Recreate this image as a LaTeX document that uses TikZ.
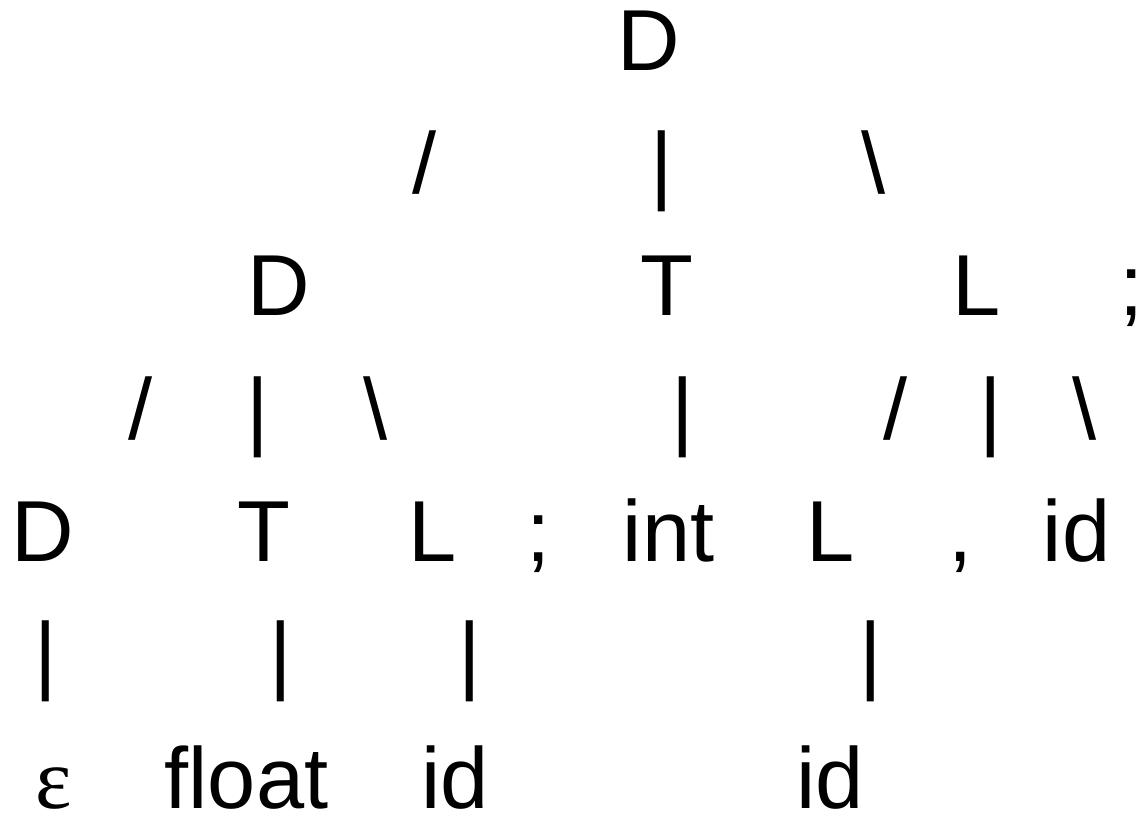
\documentclass[tikz,border=0pt]{standalone}
\usepackage{fontspec}
\setmainfont{Liberation Sans}
\newfontfamily\greekserif{Liberation Serif}
\begin{document}
\begin{tikzpicture}[x=1pt,y=-1pt,
  sym/.style={font=\fontsize{86.6pt}{90pt}\selectfont, inner sep=0pt, outer sep=0pt, anchor=base},
  eps/.style={font=\fontsize{86.6pt}{90pt}\selectfont\greekserif, inner sep=0pt, outer sep=0pt, anchor=base}]
\useasboundingbox[fill=white] (0,0) rectangle (1141,815);
% row 1
\node[sym] (r1D) at (649,70) {D};
% row 2
\node[sym] (r2a) at (424.5,193) {/};
\node[sym] (r2b) at (662,193) {|};
\node[sym] (r2c) at (874,193) {\textbackslash};
% row 3
\node[sym] (r3D) at (279,315) {D};
\node[sym] (r3T) at (667,315) {T};
\node[sym] (r3L) at (977,315) {L};
\node[sym] (r3s) at (1132,315) {;};
% row 4
\node[sym] (r4a) at (140.5,439) {/};
\node[sym] (r4b) at (258,439) {|};
\node[sym] (r4c) at (375.5,439) {\textbackslash};
\node[sym] (r4d) at (683,439) {|};
\node[sym] (r4e) at (895.5,439) {/};
\node[sym] (r4f) at (990.5,439) {|};
\node[sym] (r4g) at (1084.5,439) {\textbackslash};
% row 5
\node[sym] (r5D) at (42.5,561) {D};
\node[sym] (r5T) at (264,561) {T};
\node[sym] (r5L) at (433,561) {L};
\node[sym] (r5s) at (539,561) {;};
\node[sym] (r5int) at (668.5,561) {int};
\node[sym] (r5L2) at (831,561) {L};
\node[sym] (r5c) at (961,561) {,};
\node[sym] (r5id) at (1076.5,561) {id};
% row 6
\node[sym] (r6a) at (45.5,683) {|};
\node[sym] (r6b) at (280.5,683) {|};
\node[sym] (r6c) at (469.5,683) {|};
\node[sym] (r6d) at (870.5,683) {|};
% row 7
\node[eps] (r7e) at (53.5,808) {ε};
\node[sym] (r7f) at (246.5,808) {float};
\node[sym] (r7i) at (455,808) {id};
\node[sym] (r7j) at (830,808) {id};
\end{tikzpicture}
\end{document}
